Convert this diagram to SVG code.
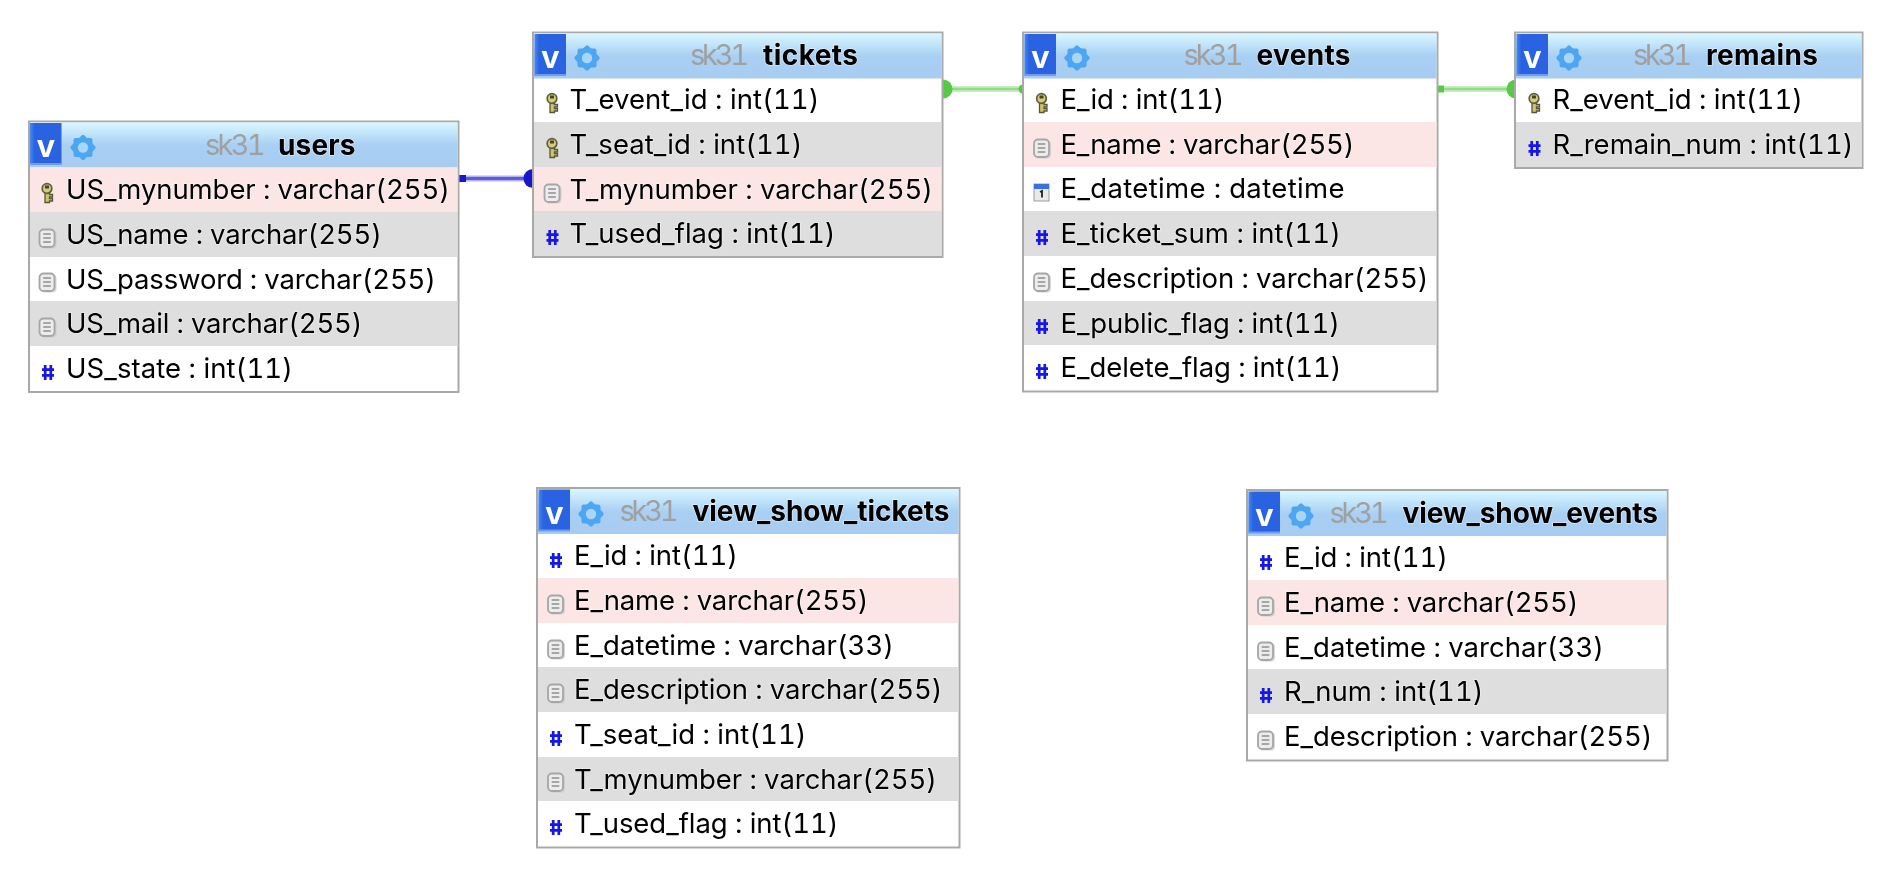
<svg xmlns="http://www.w3.org/2000/svg" width="1894" height="872" viewBox="0 0 1894 872">
<style>
text{font-family:"Inter","Noto Sans","Liberation Sans",sans-serif;font-variant-numeric:tabular-nums}
.t{font-size:27.500px;fill:#000;paint-order:stroke;stroke:#fff;stroke-opacity:.45;stroke-width:1.600px}
.s{font-size:29px;fill:#a0a0a0}
.n{font-size:28px;font-weight:700;fill:#000;paint-order:stroke;stroke:#fff;stroke-opacity:.5;stroke-width:1.600px}
.v{font-family:"Liberation Sans",sans-serif;font-size:32px;font-weight:700;fill:#fff;text-anchor:middle}
.b{fill:#fff;stroke:#a9a9a9;stroke-width:2}
.p{fill:#fbe6e5}
.g{fill:#dedede}
.h{fill:url(#hg)}
</style>
<defs>
<linearGradient id="hg" x1="0" y1="0" x2="0" y2="1"><stop offset="0" stop-color="#dcf6ff"/><stop offset=".12" stop-color="#cdeefd"/><stop offset=".5" stop-color="#a9d0f3"/><stop offset="1" stop-color="#a6cdf1"/></linearGradient>
<linearGradient id="vg" x1="0" y1="0" x2="1" y2="0"><stop offset="0" stop-color="#4a86ee"/><stop offset=".15" stop-color="#2a63e2"/><stop offset="1" stop-color="#2a62e0"/></linearGradient>
<filter id="soft" x="0" y="0" width="1894" height="872" filterUnits="userSpaceOnUse"><feGaussianBlur stdDeviation=".45"/></filter>
<g id="btn"><rect x="0" y="0" width="31.500" height="41.500" fill="url(#vg)"/><rect x="0" y="40" width="31.500" height="2" fill="#6f9cf0"/></g>
<g id="gear"><rect x="-9.500" y="-9.500" width="19" height="19" rx="2" fill="#4ea6f2"/><rect x="-9.500" y="-9.500" width="19" height="19" rx="2" fill="#4ea6f2" transform="rotate(45)"/><circle r="5.200" fill="#a9d5f6"/></g>
<g id="key"><path d="M-2-3V9h4.500V7.500H5.500V5.200H2.500V3.500H5.500V1H2.500V-3Z" fill="#cfc568" stroke="#55553a" stroke-width="1.300"/><ellipse cy="-5" rx="4.800" ry="4.800" fill="#d6cc74" stroke="#5c5c44" stroke-width="1.700"/><rect x="-2" y="-8" width="4" height="3" fill="#45452f"/></g>
<g id="doc"><rect x="-6.500" y="-8" width="16" height="18" rx="4" fill="#c8c8c8" opacity=".7"/><rect x="-7.500" y="-9" width="15" height="17.500" rx="4" fill="#ececec" stroke="#a6a6a6" stroke-width="1.800"/><path d="M-3.800-4.500h7.600M-3.800-.5h7.600M-3.800 3.500h7.600" stroke="#8e8e8e" stroke-width="1.700"/></g>
<g id="hash"><path d="M-2.800-7.500V7.500M2.800-7.500V7.500M-6-2.800H6M-6 2.800H6" stroke="#1414e8" stroke-width="2.700" fill="none"/></g>
<g id="cal"><rect x="-7.500" y="-8.500" width="15" height="17" fill="#e9e9e9" stroke="#9c9c9c" stroke-width="1"/><rect x="-7.500" y="-8.500" width="15" height="5" fill="#3b6fe0"/><path d="M-1.500-.5L.5-1.500V5" stroke="#222" stroke-width="1.800" fill="none"/></g>
</defs>
<rect width="1894" height="872" fill="#fff"/>
<g filter="url(#soft)">
<g id="connectors">
<path d="M466 178.500H532" stroke="#b4b4f2" stroke-width="6" fill="none"/><path d="M466 178.500H532" stroke="#5c5cdc" stroke-width="3" fill="none"/>
<rect x="459" y="175" width="7" height="7" fill="#1212cc"/><circle cx="533" cy="178.500" r="9.500" fill="#1212cc"/>
<path d="M943 89H1022" stroke="#c6eec0" stroke-width="6" fill="none"/><path d="M943 89H1022" stroke="#8ede84" stroke-width="2.500" fill="none"/>
<circle cx="943" cy="89" r="9.500" fill="#58c846"/><circle cx="1023" cy="89" r="4.500" fill="#58c846"/>
<path d="M1444 89H1515" stroke="#c6eec0" stroke-width="6" fill="none"/><path d="M1444 89H1515" stroke="#8ede84" stroke-width="2.500" fill="none"/>
<rect x="1437.500" y="85.500" width="6.500" height="7" fill="#58c846"/><circle cx="1516" cy="89" r="9.500" fill="#58c846"/>
</g>
<g id="users">
<rect class="b" x="29" y="121.500" width="429.500" height="270.500"/>
<rect class="h" x="30" y="122.500" width="427.500" height="45"/>
<rect class="p" x="30" y="167.500" width="427.500" height="44.500"/><rect class="g" x="30" y="212" width="427.500" height="45"/><rect class="g" x="30" y="301" width="427.500" height="45"/>
<use href="#btn" x="30" y="123"/><text class="v" x="46" y="157">v</text><use href="#gear" x="83" y="147.500"/>
<text x="205" y="155" class="s" textLength="60.500">sk31</text><text x="278" y="155" class="n" textLength="77.500">users</text>
<use href="#key" x="47" y="193.500"/><use href="#doc" x="47" y="238.500"/><use href="#doc" x="47" y="282.500"/><use href="#doc" x="47" y="327.500"/><use href="#hash" x="48" y="372.500"/>
<text class="t" x="66" y="199" textLength="384">US_mynumber : varchar(255)</text>
<text class="t" x="66" y="244" textLength="316">US_name : varchar(255)</text>
<text class="t" x="66" y="288.500" textLength="370">US_password : varchar(255)</text>
<text class="t" x="66" y="333" textLength="296.500">US_mail : varchar(255)</text>
<text class="t" x="66" y="378" textLength="227">US_state : int(11)</text>
</g>
<g id="tickets">
<rect class="b" x="533" y="32.500" width="409.500" height="224.500"/>
<rect class="h" x="534" y="33.500" width="407.500" height="45"/>
<rect class="g" x="534" y="122" width="407.500" height="45"/><rect class="p" x="534" y="167" width="407.500" height="44"/><rect class="g" x="534" y="211" width="407.500" height="45"/>
<use href="#btn" x="534.500" y="34"/><text class="v" x="550.500" y="68">v</text><use href="#gear" x="587" y="58"/>
<text x="690" y="65" class="s" textLength="59">sk31</text><text x="763" y="65" class="n" textLength="95">tickets</text>
<use href="#key" x="552" y="103.500"/><use href="#key" x="552" y="148.500"/><use href="#doc" x="552" y="193.500"/><use href="#hash" x="552.500" y="237.500"/>
<text class="t" x="569.500" y="109" textLength="250">T_event_id : int(11)</text>
<text class="t" x="569.500" y="154" textLength="233">T_seat_id : int(11)</text>
<text class="t" x="569.500" y="198.500" textLength="363.500">T_mynumber : varchar(255)</text>
<text class="t" x="569.500" y="243" textLength="266">T_used_flag : int(11)</text>
</g>
<g id="events">
<rect class="b" x="1023" y="32.500" width="414.500" height="359"/>
<rect class="h" x="1024" y="33.500" width="412.500" height="45"/>
<rect class="p" x="1024" y="122" width="412.500" height="45"/><rect class="g" x="1024" y="211" width="412.500" height="45"/><rect class="g" x="1024" y="301" width="412.500" height="44"/>
<use href="#btn" x="1024.500" y="34"/><text class="v" x="1040.500" y="68">v</text><use href="#gear" x="1077" y="58"/>
<text x="1183.500" y="65" class="s" textLength="60">sk31</text><text x="1256.500" y="65" class="n" textLength="94">events</text>
<use href="#key" x="1041.500" y="103.500"/><use href="#doc" x="1041.500" y="148.500"/><use href="#cal" x="1041.500" y="192.500"/><use href="#hash" x="1042" y="237.500"/><use href="#doc" x="1041.500" y="282.500"/><use href="#hash" x="1042" y="326.500"/><use href="#hash" x="1042" y="371.500"/>
<text class="t" x="1060.500" y="109" textLength="164">E_id : int(11)</text>
<text class="t" x="1060.500" y="154" textLength="294">E_name : varchar(255)</text>
<text class="t" x="1060.500" y="198" textLength="284">E_datetime : datetime</text>
<text class="t" x="1060.500" y="243" textLength="280.500">E_ticket_sum : int(11)</text>
<text class="t" x="1060.500" y="287.500" textLength="368">E_description : varchar(255)</text>
<text class="t" x="1060.500" y="332.500" textLength="279.500">E_public_flag : int(11)</text>
<text class="t" x="1060.500" y="377" textLength="281">E_delete_flag : int(11)</text>
</g>
<g id="remains">
<rect class="b" x="1515" y="32.500" width="347.500" height="135.500"/>
<rect class="h" x="1516" y="33.500" width="345.500" height="45"/>
<rect class="g" x="1516" y="122" width="345.500" height="45"/>
<use href="#btn" x="1516.500" y="34"/><text class="v" x="1532.500" y="68">v</text><use href="#gear" x="1569" y="58"/>
<text x="1633" y="65" class="s" textLength="59">sk31</text><text x="1706" y="65" class="n" textLength="112">remains</text>
<use href="#key" x="1534" y="103.500"/><use href="#hash" x="1534.500" y="148.500"/>
<text class="t" x="1552.500" y="109" textLength="250.500">R_event_id : int(11)</text>
<text class="t" x="1552.500" y="154" textLength="301">R_remain_num : int(11)</text>
</g>
<g id="view_show_tickets">
<rect class="b" x="537" y="488" width="422.500" height="359.500"/>
<rect class="h" x="538" y="489" width="420.500" height="45"/>
<rect class="p" x="538" y="578" width="420.500" height="45"/><rect class="g" x="538" y="667" width="420.500" height="45"/><rect class="g" x="538" y="757" width="420.500" height="44"/>
<use href="#btn" x="538.500" y="489.500"/><text class="v" x="554.500" y="523.500">v</text><use href="#gear" x="591" y="514"/>
<text x="619.500" y="521" class="s" textLength="59">sk31</text><text x="692.500" y="521" class="n" textLength="257">view_show_tickets</text>
<use href="#hash" x="556" y="560.500"/><use href="#doc" x="555.500" y="604.500"/><use href="#doc" x="555.500" y="649.500"/><use href="#doc" x="555.500" y="693.500"/><use href="#hash" x="556" y="738.500"/><use href="#doc" x="555.500" y="782.500"/><use href="#hash" x="556" y="827.500"/>
<text class="t" x="574" y="565" textLength="164">E_id : int(11)</text>
<text class="t" x="574" y="610" textLength="294.500">E_name : varchar(255)</text>
<text class="t" x="574" y="654.500" textLength="320">E_datetime : varchar(33)</text>
<text class="t" x="574" y="699" textLength="368.500">E_description : varchar(255)</text>
<text class="t" x="574" y="744" textLength="232.500">T_seat_id : int(11)</text>
<text class="t" x="574" y="788.500" textLength="363">T_mynumber : varchar(255)</text>
<text class="t" x="574" y="833" textLength="264.500">T_used_flag : int(11)</text>
</g>
<g id="view_show_events">
<rect class="b" x="1247" y="490" width="420.500" height="270.500"/>
<rect class="h" x="1248" y="491" width="418.500" height="45"/>
<rect class="p" x="1248" y="580" width="418.500" height="45"/><rect class="g" x="1248" y="669" width="418.500" height="45"/>
<use href="#btn" x="1248.500" y="491.500"/><text class="v" x="1264.500" y="525.500">v</text><use href="#gear" x="1301" y="516"/>
<text x="1329.500" y="523" class="s" textLength="59">sk31</text><text x="1402.500" y="523" class="n" textLength="255.500">view_show_events</text>
<use href="#hash" x="1266" y="562.500"/><use href="#doc" x="1265.500" y="606.500"/><use href="#doc" x="1265.500" y="651.500"/><use href="#hash" x="1266" y="695.500"/><use href="#doc" x="1265.500" y="740.500"/>
<text class="t" x="1284" y="567" textLength="164">E_id : int(11)</text>
<text class="t" x="1284" y="612" textLength="294.500">E_name : varchar(255)</text>
<text class="t" x="1284" y="656.500" textLength="320">E_datetime : varchar(33)</text>
<text class="t" x="1284" y="701" textLength="199.500">R_num : int(11)</text>
<text class="t" x="1284" y="746" textLength="368.500">E_description : varchar(255)</text>
</g>
</g>
</svg>
